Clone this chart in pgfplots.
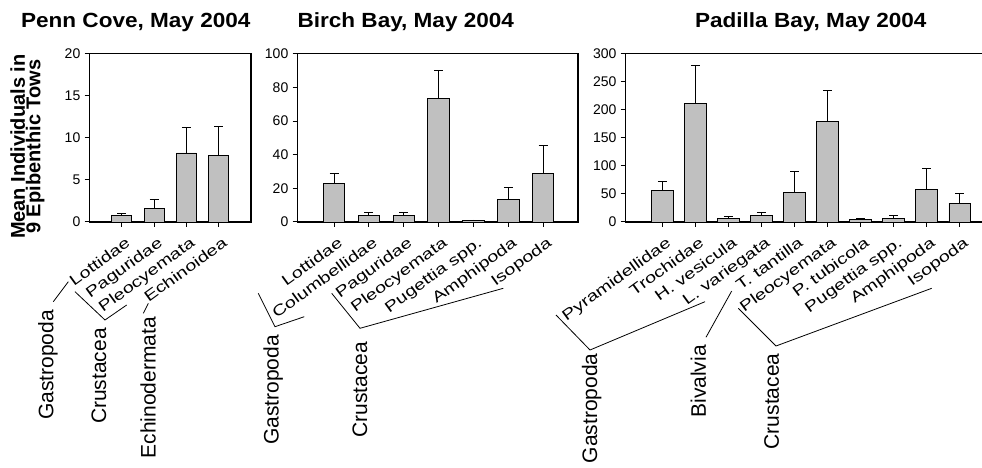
\documentclass[border=0pt]{standalone}
\usepackage{fontspec}
\setmainfont{Liberation Sans}
\newfontfamily\titlefont{Liberation Sans}[FakeStretch=1.1]
\newfontfamily\diagfont{Liberation Sans}[FakeStretch=1.32]
\usepackage{pgfplots}
\pgfplotsset{compat=1.18}
\definecolor{barfill}{RGB}{192,192,192}
\pgfplotsset{
  panel/.style={
    scale only axis, height=168.3pt, ymin=0, ybar, bar width=21.5pt,
    axis line style={black,line width=1.1pt},
    tick align=outside, tick pos=left, major tick length=5pt,
    tick style={black,line width=1pt},
    /pgf/number format/assume math mode=true,
    yticklabel style={font=\fontsize{14}{16}\selectfont, inner sep=0pt, xshift=-4pt},
    xticklabel style={font=\diagfont\fontsize{15}{17}\selectfont, anchor=north east, inner sep=0pt, xshift=3pt, yshift=-9pt, rotate=36},
  },
  barplot/.style={draw=black, line width=0.9pt, fill=barfill,
    error bars/.cd, y dir=plus, y explicit, error mark=-,
    error bar style={line width=0.9pt,black},
    error mark options={rotate=90, black, mark size=4.5pt, line width=0.9pt}},
}
\begin{document}
\begin{tikzpicture}[x=1pt,y=1pt]
\useasboundingbox (0,0) rectangle (982,468);
% Penn Cove
\begin{axis}[panel, at={(89.5pt,246pt)}, anchor=south west, width=161.5pt,
  xmin=-1, xmax=4, ymax=20, ytick={0,5,10,15,20}, bar width=20pt,
  xtick={0,1,2,3}, xticklabels={Lottidae,Paguridae,Pleocyemata,Echinoidea}]
\addplot[barplot] coordinates {(0,0.75) +- (0,0.3) (1,1.65) +- (0,1.0) (2,8.2) +- (0,3.05) (3,7.95) +- (0,3.45)};
\end{axis}
% Birch Bay
\begin{axis}[panel, at={(297.5pt,246pt)}, anchor=south west, width=280.5pt,
  xmin=-1.05, xmax=7, ymax=100, ytick={0,20,40,60,80,100},
  xtick={0,1,2,3,4,5,6}, xticklabels={Lottidae,Columbellidae,Paguridae,Pleocyemata,Pugettia spp.,Amphipoda,Isopoda}]
\addplot[barplot] coordinates {(0,22.8) +- (0,6.0) (1,3.6) +- (0,2.0) (2,3.6) +- (0,2.0) (3,73.2) +- (0,16.8) (4,0.8) +- (0,0.4) (5,13.5) +- (0,7.0) (6,28.8) +- (0,16.9)};
\end{axis}
% Padilla Bay
\begin{axis}[panel, at={(625.7pt,246pt)}, anchor=south west, width=357.8pt,
  xmin=-1.11, xmax=9.72, ymax=300, ytick={0,50,100,150,200,250,300},
  xtick={0,1,2,3,4,5,6,7,8,9}, xticklabels={Pyramidellidae,Trochidae,H. vesicula,L. variegata,T. tantilla,Pleocyemata,P. tubicola,Pugettia spp.,Amphipoda,Isopoda}]
\addplot[barplot] coordinates {(0,56.7) +- (0,15.9) (1,211.4) +- (0,68) (2,6.5) +- (0,3.0) (3,11.0) +- (0,5.5) (4,52) +- (0,38.4) (5,179) +- (0,55) (6,4.7) +- (0,2.0) (7,6.5) +- (0,4.5) (8,58.5) +- (0,36.6) (9,33.7) +- (0,16.5)};
\end{axis}
% titles
\node[anchor=base, font=\titlefont\bfseries\fontsize{20.5}{24}\selectfont] at (135.8,440.7) {Penn Cove, May 2004};
\node[anchor=base, font=\titlefont\bfseries\fontsize{20.5}{24}\selectfont] at (405.8,440.7) {Birch Bay, May 2004};
\node[anchor=base, font=\titlefont\bfseries\fontsize{20.5}{24}\selectfont] at (810.8,440.7) {Padilla Bay, May 2004};
% y label
\node[rotate=90, align=center, font=\bfseries\fontsize{20}{15.5}\selectfont] at (27.5,321.3) {Mean Individuals in\\9 Epibenthic Tows};
% group labels and brackets
\tikzset{grp/.style={rotate=90, anchor=east, inner sep=0pt, font=\fontsize{21}{24}\selectfont}}
\draw[line width=0.8pt] (53.3,166.3) -- (68.3,186.3);
\node[grp] at (48,158) {Gastropoda};
\draw[line width=0.8pt] (75,176.3) -- (105,148) -- (126.7,163);
\node[grp] at (99,140) {Crustacea};
\draw[line width=0.8pt] (143.3,154.7) -- (148.3,164.7);
\node[grp] at (148,151) {Echinodermata};
\draw[line width=0.8pt] (258.3,174.7) -- (275,141.3) -- (304.3,151.3);
\node[grp] at (273.3,133) {Gastropoda};
\draw[line width=0.8pt] (331.7,174.7) -- (360,139.7) -- (503.3,179.7);
\node[grp] at (360,126.3) {Crustacea};
\draw[line width=0.8pt] (556,153) -- (590,118) -- (705,166.3);
\node[grp] at (591.7,114.7) {Gastropoda};
\draw[line width=0.8pt] (706,130.7) -- (731.7,177);
\node[grp] at (698.3,123) {Bivalvia};
\draw[line width=0.8pt] (738.3,159.7) -- (776,122) -- (931.7,179.7);
\node[grp] at (771.7,114.7) {Crustacea};
\end{tikzpicture}
\end{document}
